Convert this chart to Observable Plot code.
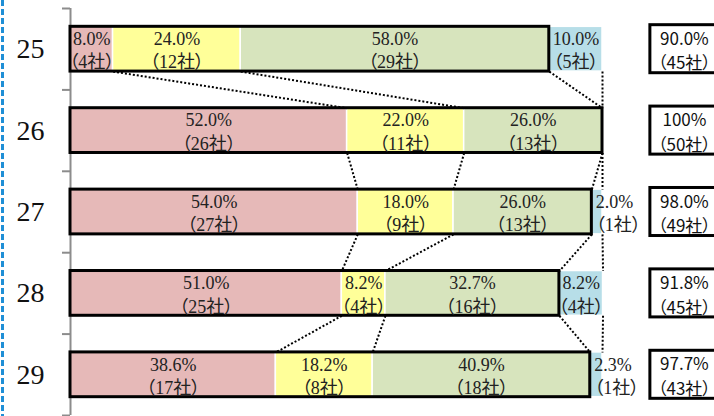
<!DOCTYPE html>
<html><head><meta charset="utf-8">
<script src="https://cdn.jsdelivr.net/npm/d3@7"></script>
<script src="https://cdn.jsdelivr.net/npm/@observablehq/plot@0.6"></script>
<style>
html,body{margin:0;padding:0;background:#fff;}
#wrap{position:relative;width:714px;height:416px;overflow:hidden;}
#dash{position:absolute;left:1px;top:0;width:3px;height:416px;background:repeating-linear-gradient(to bottom,#1f8fd6 0 6px,transparent 6px 9px);}
#wrap svg{position:absolute;left:0;top:0;}
#wrap svg text{font-feature-settings:"palt";}
</style></head><body>
<div id="wrap"><div id="dash"></div></div>
<script>
const years = ["25","26","27","28","29"];
const pinkPct = [8.0, 52.0, 54.0, 51.0, 38.6];
const yellowPct = [24.0, 22.0, 18.0, 8.2, 18.2];
const greenPct = [58.0, 26.0, 26.0, 32.7, 40.9];
const bluePct = [10.0, 0, 2.0, 8.2, 2.3];
const pinkN = [4, 26, 27, 25, 17];
const yellowN = [12, 11, 9, 4, 8];
const greenN = [29, 13, 13, 16, 18];
const blueN = [5, 0, 1, 4, 1];
const totalPct = ["90.0%", "100%", "98.0%", "91.8%", "97.7%"];
const totalN = [45, 50, 49, 45, 43];
const segColors = ["#E6B9B8", "#FFFF99", "#D7E4BD", "#B7DEE8"];

const serif = "'Liberation Serif','Noto Sans CJK JP',serif";
const sans = "'Noto Sans CJK JP','Liberation Sans',sans-serif";

const segs = [];
const cum = [];
years.forEach((yr, i) => {
  const pcts = [pinkPct[i], yellowPct[i], greenPct[i], bluePct[i]];
  const ns = [pinkN[i], yellowN[i], greenN[i], blueN[i]];
  let c = 0; const b = [];
  pcts.forEach((p, k) => {
    const x1 = c, x2 = c + p; c = x2; b.push(x2);
    if (p > 0) segs.push({i, k, x1, x2, pct: p, label: `${p.toFixed(1)}%\n（${ns[k]}社）`});
  });
  cum.push(b);
});
const links = [];
for (let i = 0; i < years.length - 1; i++) {
  for (let k = 0; k < 4; k++) {
    links.push({x1: cum[i][k], x2: cum[i + 1][k], y1: i + 0.775, y2: i + 1.225});
  }
}
const bigSegs = segs.filter(d => d.pct >= 5);
const smallSegs = segs.filter(d => d.pct < 5);

const chart = Plot.plot({
  width: 714, height: 416,
  marginLeft: 70, marginRight: 112, marginTop: 8, marginBottom: 1,
  x: {domain: [0, 100], axis: null},
  y: {domain: [0, 5], reverse: true, axis: null},
  style: {background: "transparent", overflow: "hidden"},
  marks: [
    Plot.axisY({ticks: [0, 1, 2, 3, 4, 5], tickFormat: () => "", tickSize: 8, stroke: "#8c8c8c", strokeWidth: 2}),
    Plot.ruleX([0], {stroke: "#8c8c8c", strokeWidth: 2}),
    Plot.text(years, {x: () => 0, y: (d, i) => i + 0.5, text: d => d, dx: -40, fontSize: 28, fontFamily: serif, fill: "#111"}),
    Plot.rect(segs, {x1: "x1", x2: "x2", y1: d => d.i + 0.225, y2: d => d.i + 0.775, fill: d => segColors[d.k], stroke: "white", strokeWidth: 1.5}),
    Plot.rect(years, {x1: () => 0, x2: (d, i) => cum[i][2], y1: (d, i) => i + 0.225, y2: (d, i) => i + 0.775, fill: "none", stroke: "black", strokeWidth: 3}),
    Plot.link(links, {x1: "x1", y1: "y1", x2: "x2", y2: "y2", stroke: "black", strokeWidth: 2, strokeDasharray: "2,2"}),
    Plot.text(bigSegs, {x: d => (d.x1 + d.x2) / 2, y: d => d.i + 0.5, text: "label", fontSize: 18, lineHeight: 1.3, fontFamily: serif, fill: "#222"}),
    Plot.text(smallSegs, {x: "x1", y: d => d.i + 0.5, text: "label", textAnchor: "start", dx: 4, fontSize: 18, lineHeight: 1.3, fontFamily: serif, fill: "#222"}),
    Plot.rect(years, {x1: () => 109, x2: () => 135, y1: (d, i) => i + 0.205, y2: (d, i) => i + 0.795, fill: "white", stroke: "black", strokeWidth: 3}),
    Plot.text(years, {x: () => 115.4, y: (d, i) => i + 0.5, text: (d, i) => `${totalPct[i]}\n（${totalN[i]}社）`, fontSize: 17, lineHeight: 1.45, fontFamily: sans, fill: "#111"})
  ]
});
document.getElementById("wrap").appendChild(chart);
</script>
</body></html>
